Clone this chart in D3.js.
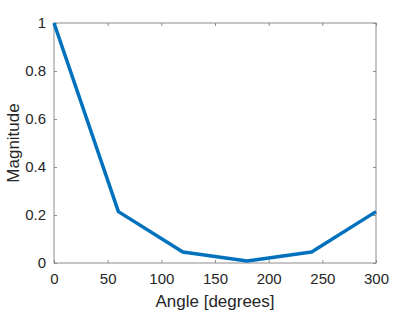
<!DOCTYPE html>
<html><head><meta charset="utf-8">
<script src="https://cdn.jsdelivr.net/npm/d3@7/dist/d3.min.js"></script>
<style>body{margin:0;background:#fff}svg{display:block}text{font-family:"Liberation Sans",Arial,Helvetica,sans-serif;fill:#262626}</style>
</head><body><svg id="c" width="415" height="312"></svg>
<script>
const angles = [0, 60, 120, 180, 240, 300];
const magnitude = [1, 0.214, 0.046, 0.008, 0.046, 0.214];
const xTicks = [0, 50, 100, 150, 200, 250, 300];
const yTicks = [0, 0.2, 0.4, 0.6, 0.8, 1];
const xLabel = "Angle [degrees]";
const yLabel = "Magnitude";

const m = {l: 54, r: 376, t: 23, b: 263};
const svg = d3.select("#c");
const x = d3.scaleLinear().domain([0, 300]).range([m.l, m.r]);
const y = d3.scaleLinear().domain([0, 1]).range([m.b, m.t]);
const axCol = "#8c8c8c";

function style(g, showText) {
  g.select(".domain").remove();
  g.selectAll("line").attr("stroke", axCol);
  g.selectAll("text").attr("fill", "#262626").style("font-size", "15px");
  if (!showText) g.selectAll("text").remove();
}
svg.append("g").attr("transform", `translate(0,${m.b})`)
  .call(d3.axisBottom(x).tickValues(xTicks).tickSizeInner(-3).tickSizeOuter(0).tickPadding(10).tickFormat(d3.format("d")))
  .call(g => style(g, true));
svg.append("g").attr("transform", `translate(0,${m.t})`)
  .call(d3.axisTop(x).tickValues(xTicks).tickSizeInner(-3).tickSizeOuter(0))
  .call(g => style(g, false));
svg.append("g").attr("transform", `translate(${m.l},0)`)
  .call(d3.axisLeft(y).tickValues(yTicks).tickSizeInner(-3).tickSizeOuter(0).tickPadding(8).tickFormat(d => d3.format("~g")(d)))
  .call(g => style(g, true));
svg.append("g").attr("transform", `translate(${m.r},0)`)
  .call(d3.axisRight(y).tickValues(yTicks).tickSizeInner(-3).tickSizeOuter(0))
  .call(g => style(g, false));

svg.append("rect").attr("x", m.l).attr("y", m.t).attr("width", m.r - m.l).attr("height", m.b - m.t)
  .attr("fill", "none").attr("stroke", axCol).attr("stroke-width", 1);

const data = angles.map((a, i) => [a, magnitude[i]]);
svg.append("path").datum(data)
  .attr("fill", "none").attr("stroke", "#0072BD").attr("stroke-width", 3.5).attr("stroke-linejoin", "round")
  .attr("d", d3.line().x(d => x(d[0])).y(d => y(d[1])));

svg.append("text").attr("x", (m.l + m.r) / 2).attr("y", 307).attr("text-anchor", "middle")
  .style("font-size", "17px").text(xLabel);
svg.append("text").attr("transform", `translate(19,${(m.t + m.b) / 2}) rotate(-90)`).attr("text-anchor", "middle")
  .style("font-size", "17px").text(yLabel);
</script></body></html>
